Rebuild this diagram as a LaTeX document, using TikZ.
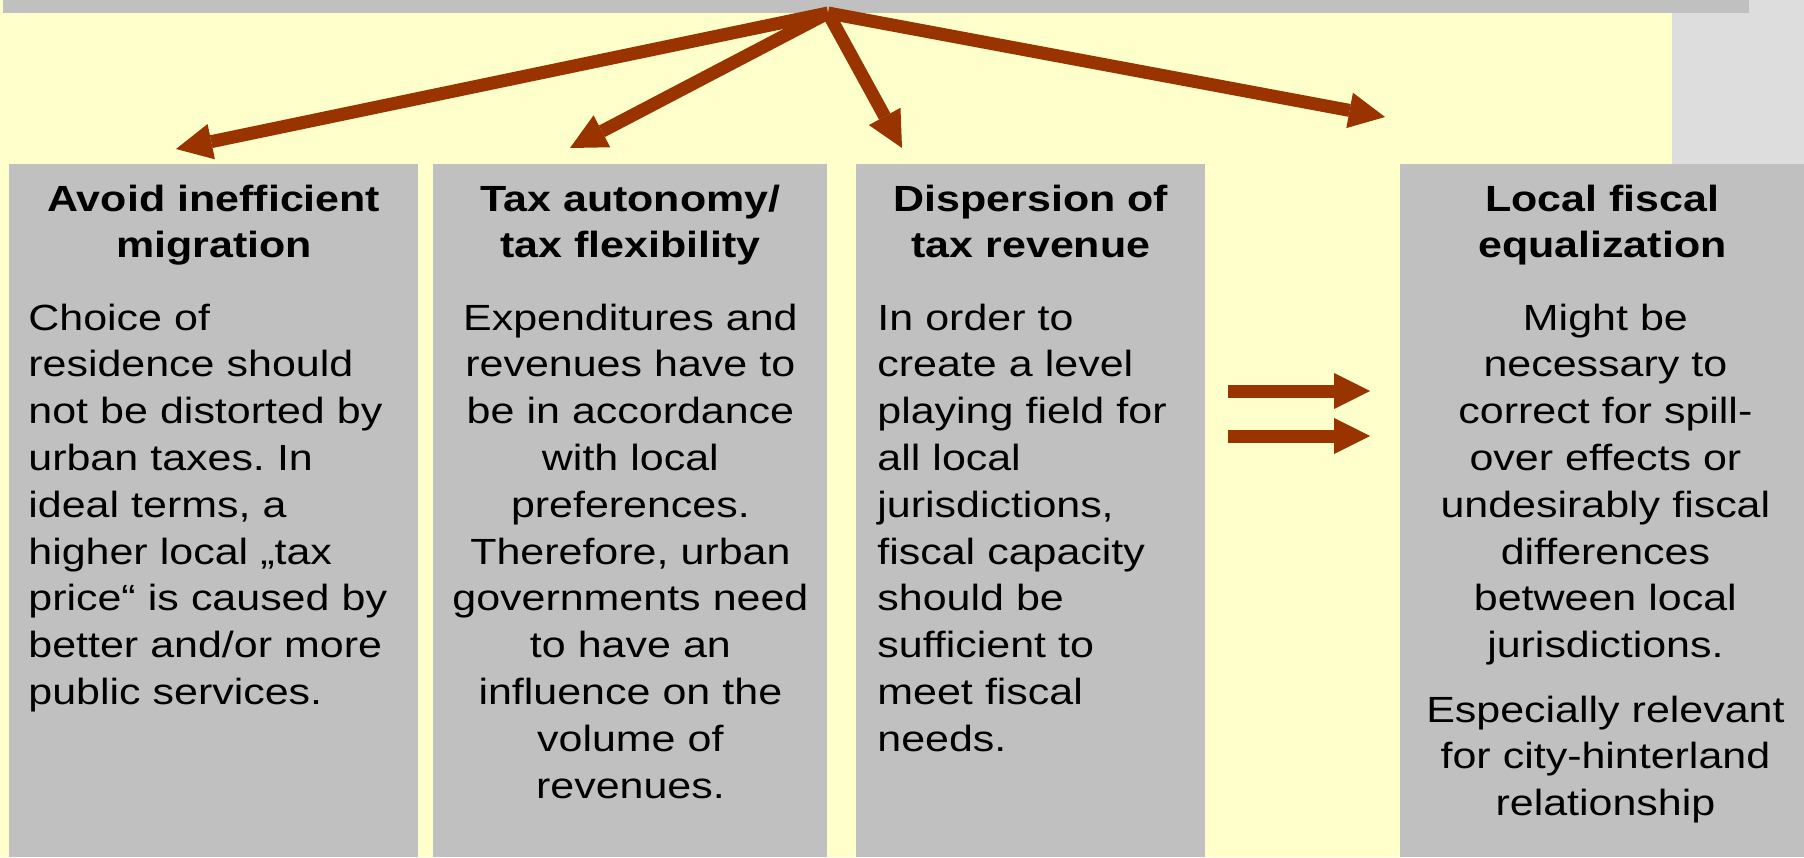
\documentclass[tikz,border=0pt]{standalone}
\usepackage{fontspec}
\setmainfont{Liberation Sans}[FakeStretch=1.18]
\frenchspacing
\usetikzlibrary{arrows.meta,positioning}

\definecolor{slideyellow}{HTML}{FFFFCC}
\definecolor{panelgray}{HTML}{C0C0C0}
\definecolor{stripgray}{HTML}{DDDDDD}
\definecolor{arrowbrown}{HTML}{993300}

\tikzset{
  panel/.style={fill=panelgray, inner sep=0pt, anchor=north west, minimum height=346.5pt},
  heading/.style={anchor=base, inner sep=0pt, text width=190pt, align=center,
    font=\bfseries\fontsize{18.2}{23}\selectfont},
  bodytext/.style={inner sep=0pt, text width=190pt,
    font=\fontsize{18.2}{23.4}\selectfont},
  fatarrow/.style={draw=arrowbrown, line width=6.5pt,
    -{Triangle[length=18pt,width=18pt,line width=0pt]}}
}

\begin{document}
\begin{tikzpicture}[x=0.5pt,y=-0.5pt]
  \useasboundingbox (0,0) rectangle (1804,857);
  % slide background
  \fill[stripgray] (0,0) rectangle (1804,857);
  \fill[slideyellow] (0,0) rectangle (1672,857);
  \fill[panelgray] (3,0) rectangle (1749,13);

  % the four columns
  \node[panel, minimum width=204.5pt] (migration) at (9,164) {};
  \node[panel, minimum width=197pt] (autonomy) at (433,164) {};
  \node[panel, minimum width=174.5pt] (dispersion) at (856,164) {};
  \node[panel, minimum width=202pt] (equalization) at (1400,164) {};

  \node[heading] (migrationhead) at ([yshift=-23.5pt]migration.north) {Avoid inefficient\\migration};
  \node[heading] (autonomyhead) at ([yshift=-23.5pt]autonomy.north) {Tax autonomy/\\tax flexibility};
  \node[heading] (dispersionhead) at ([yshift=-23.5pt]dispersion.north) {Dispersion of\\tax revenue};
  \node[heading] (equalizationhead) at ([yshift=-23.5pt]equalization.north) {Local fiscal\\equalization};

  \node[bodytext, anchor=base west, align=left] (migrationtext)
    at ([xshift=9.5pt,yshift=-83pt]migration.north west)
    {Choice of\\residence should\\not be distorted by\\urban taxes. In\\ideal terms, a\\higher local „tax\\price“ is caused by\\better and/or more\\public services.};
  \node[bodytext, anchor=base, align=center] (autonomytext)
    at ([yshift=-83pt]autonomy.north)
    {Expenditures and\\revenues have to\\be in accordance\\with local\\preferences.\\Therefore, urban\\governments need\\to have an\\influence on the\\volume of\\revenues.};
  \node[bodytext, anchor=base west, align=left, text width=160pt] (dispersiontext)
    at ([xshift=10.5pt,yshift=-83pt]dispersion.north west)
    {In order to\\create a level\\playing field for\\all local\\jurisdictions,\\fiscal capacity\\should be\\sufficient to\\meet fiscal\\needs.};
  \node[bodytext, anchor=base, align=center] (equalizationtext)
    at ([xshift=1.5pt,yshift=-83pt]equalization.north)
    {Might be\\necessary to\\correct for spill-\\over effects or\\undesirably fiscal\\differences\\between local\\jurisdictions.\\[8.8pt]Especially relevant\\for city-hinterland\\relationship};

  % fan of arrows from the top bar
  \coordinate (apex) at (828,13);
  \coordinate (migrationtip) at (176,149);
  \coordinate (autonomytip) at (570,148);
  \coordinate (dispersiontip) at (902,148);
  \coordinate (equalizationtip) at (1385,117);
  \draw[fatarrow] (apex) -- (migrationtip);
  \draw[fatarrow] (apex) -- (autonomytip);
  \draw[fatarrow] (apex) -- (dispersiontip);
  \draw[fatarrow] (apex) -- (equalizationtip);

  % double arrow between the columns
  \draw[fatarrow] ([xshift=11pt,yshift=-113.5pt]dispersion.north east) -- ([xshift=-15pt,yshift=-113.5pt]equalization.north west);
  \draw[fatarrow] ([xshift=11pt,yshift=-136pt]dispersion.north east) -- ([xshift=-15pt,yshift=-136pt]equalization.north west);
\end{tikzpicture}
\end{document}
